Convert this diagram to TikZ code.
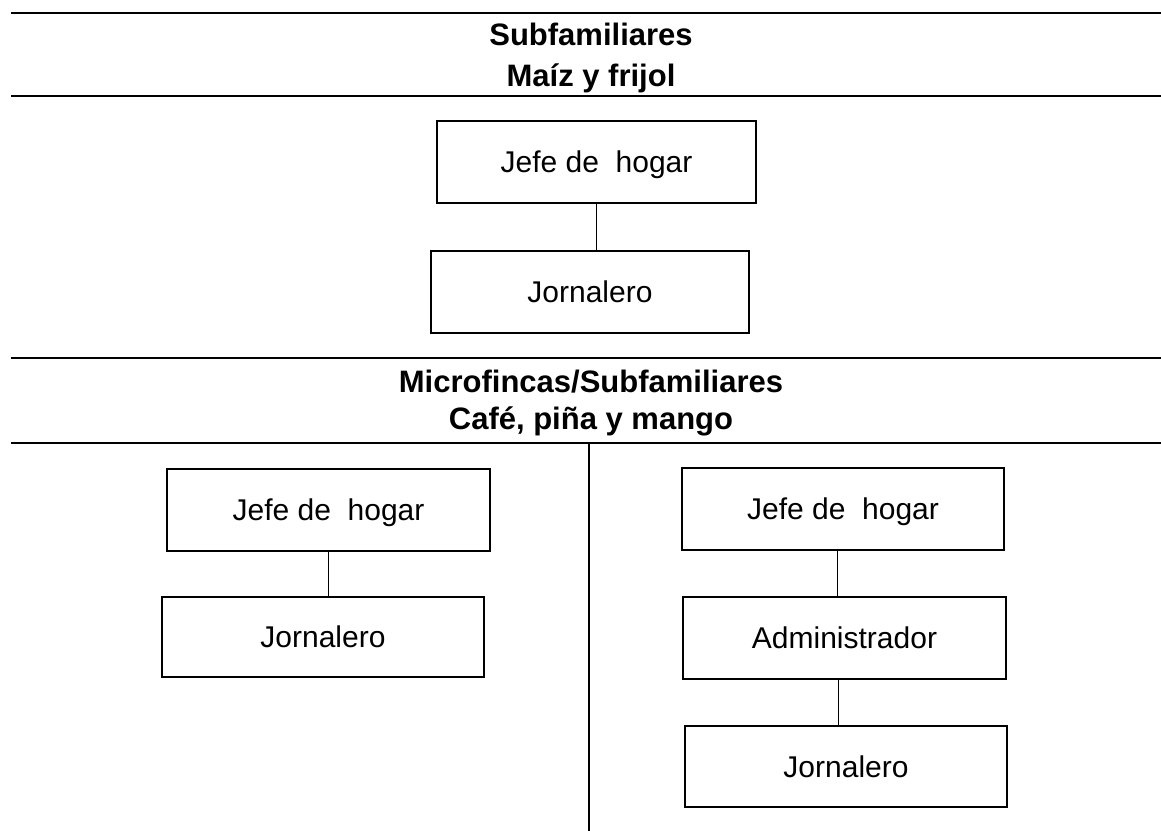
\documentclass[tikz,border=0pt]{standalone}
\usepackage{fontspec}
\setmainfont{Liberation Sans}
\begin{document}
\begin{tikzpicture}[x=0.75pt,y=-0.75pt,
  rule/.style={line width=1.6pt, black},
  link/.style={line width=1pt, black},
  title/.style={font=\fontsize{23.25}{28}\selectfont\bfseries, anchor=base, inner sep=0pt},
  box/.style={draw, line width=1.3pt, rectangle, inner sep=0pt,
    font=\fontsize{22.5}{27}\selectfont, text height=16pt, text depth=0pt,
    minimum width=#1*0.75pt, minimum height=82*0.75pt},
  box/.default=321]
\useasboundingbox (0,0) rectangle (1161,831);
% horizontal rules
\draw[rule] (11,13) -- (1161,13);
\draw[rule] (11,96) -- (1161,96);
\draw[rule] (11,358) -- (1161,358);
\draw[rule] (11,443) -- (1161,443);
\draw[rule] (589,443) -- (589,831);
% titles
\node[title] (t1) at (591,46) {Subfamiliares};
\node[title] (t2) at (591,87) {Maíz y frijol};
\node[title] (t3) at (591,392) {Microfincas/Subfamiliares};
\node[title] (t4) at (591,429) {Café, piña y mango};
% top group
\node[box=319] (a1) at (596.5,162) {Jefe de\ \ hogar};
\node[box=318] (a2) at (590,292) {Jornalero};
% left group
\node[box=323] (b1) at (328.5,510) {Jefe de\ \ hogar};
\node[box=322, minimum height=80*0.75pt] (b2) at (323,637) {Jornalero};
% right group
\node[box=322] (c1) at (843,509) {Jefe de\ \ hogar};
\node[box=323] (c2) at (844.5,638) {Administrador};
\node[box=322, minimum height=81*0.75pt] (c3) at (846,766.5) {Jornalero};
% connectors
\draw[link] (a1.south) -- (a1.south |- a2.north);
\draw[link] (b1.south) -- (b1.south |- b2.north);
\draw[link] ([xshift=-4pt]c1.south) -- ([xshift=-4pt]c1.south |- c2.north);
\draw[link] ([xshift=-4.5pt]c2.south) -- ([xshift=-4.5pt]c2.south |- c3.north);
\end{tikzpicture}
\end{document}
